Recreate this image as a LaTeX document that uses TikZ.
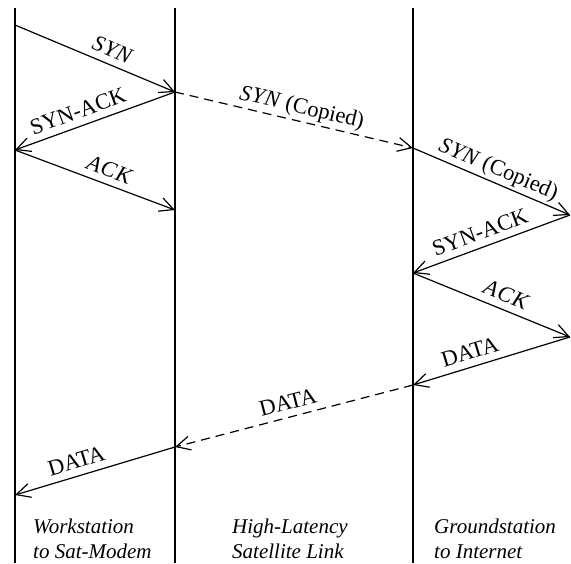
\documentclass[tikz,border=0pt]{standalone}
\usepackage{fontspec}
\setmainfont{Liberation Serif}
\usetikzlibrary{arrows.meta}
\newcommand{\synit}{\textit{S\kern1pt Y\kern0.5pt N}}
\newcommand{\ackit}{\textit{A\kern1pt C\kern1pt K}}
\begin{document}
\begin{tikzpicture}[x=1pt,y=-1pt,
  msg/.style={line width=1.2pt,-{Straight Barb[length=14pt,width=14pt,line width=1.2pt]}},
  copied/.style={msg,dash pattern=on 9pt off 6pt},
  lab/.style={sloped,above=3pt,inner sep=0pt,text height=14pt,text depth=4pt,font=\fontsize{22.5}{26}\selectfont},
  foot/.style={anchor=base west,inner sep=0pt,font=\fontsize{21}{24}\selectfont\itshape},
  lane/.style={line width=1.3pt}]
\useasboundingbox (0,0) rectangle (571,563);
% lanes
\coordinate (wt) at (15,8);   \coordinate (wb) at (15,563);
\coordinate (mt) at (175,8);  \coordinate (mb) at (175,563);
\coordinate (gt) at (413,8);  \coordinate (gb) at (413,563);
\draw[lane] (wt) -- (wb);
\draw[lane] (mt) -- (mb);
\draw[lane] (gt) -- (gb);
% event points
\coordinate (a1) at (15,25);
\coordinate (b1) at (175,92);
\coordinate (a2) at (15,150);
\coordinate (b2) at (175,210);
\coordinate (c1) at (413,148);
\coordinate (d1) at (570,215);
\coordinate (c2) at (413,273);
\coordinate (d2) at (570,337);
\coordinate (c3) at (413,385);
\coordinate (b3) at (175,447);
\coordinate (a3) at (15,495);
% messages
\draw[msg] (a1) -- node[lab,pos=0.575] (l1) {\synit} (b1);
\draw[msg] (b1) -- node[lab,pos=0.575] (l2) {SYN-ACK} (a2);
\draw[msg] (a2) -- node[lab,pos=0.56] (l3) {\ackit} (b2);
\draw[copied] (b1) -- node[lab,pos=0.52] (l4) {\synit{} (Copied)} (c1);
\draw[msg] (c1) -- node[lab,pos=0.51] (l5) {\synit{} (Copied)} (d1);
\draw[msg] (d1) -- node[lab,pos=0.54] (l6) {SYN-ACK} (c2);
\draw[msg] (c2) -- node[lab,pos=0.56] (l7) {\ackit} (d2);
\draw[msg] (d2) -- node[lab,pos=0.61] (l8) {DATA} (c3);
\draw[copied] (c3) -- node[lab,pos=0.51] (l9) {DATA} (b3);
\draw[msg] (b3) -- node[lab,pos=0.59] (l10) {DATA} (a3);
% footers
\node[foot] (f1a) at (33,533) {Workstation};
\node[foot] (f1b) at (33,558) {to Sat-Modem};
\node[foot] (f2a) at (232,533) {High-Latency};
\node[foot] (f2b) at (232,558) {Satellite Link};
\node[foot] (f3a) at (434,533) {Groundstation};
\node[foot] (f3b) at (434,558) {to Internet};
\end{tikzpicture}
\end{document}
